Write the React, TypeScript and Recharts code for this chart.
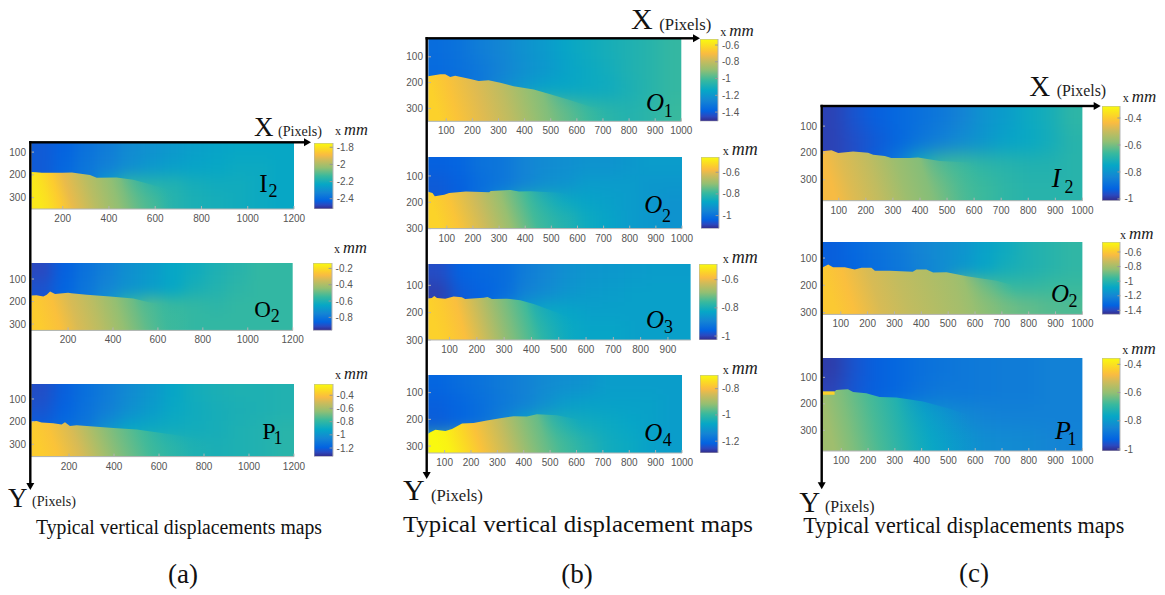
import React from 'react';
import { ComposedChart, BarChart, Area, Bar, Scatter, XAxis, YAxis } from 'recharts';

// ---------- colour-bar palette ----------
const parulaT = [0, 0.06, 0.125, 0.25, 0.375, 0.5, 0.625, 0.75, 0.82, 0.875, 1];
const parulaC = ['#352a87', '#2a49c0', '#0363e1', '#1485d4', '#06a7c6', '#38b99e', '#92bf73', '#d1bb59', '#f9bb42', '#fccd2e', '#f9fb0e'];

// ---------- shared tick lists ----------
const ticks1200 = [200, 400, 600, 800, 1000, 1200];
const ticks1000 = [100, 200, 300, 400, 500, 600, 700, 800, 900, 1000];
const ticks900 = [100, 200, 300, 400, 500, 600, 700, 800, 900];
const ticksY = [100, 200, 300];

// ---------- (a) I2 ----------
const a1Xd = [63, 1200]; const a1Yd = [60, 350]; const a1Range = [-2.52, -1.75];
const a1Cb = [-1.8, -2, -2.2, -2.4];
const a1Heat = [
  [-2.44, -2.42, -2.38, -2.35, -2.31, -2.29, -2.27, -2.25, -2.24, -2.23, -2.23, -2.23],
  [-2.44, -2.41, -2.37, -2.34, -2.30, -2.27, -2.25, -2.24, -2.23, -2.22, -2.22, -2.23],
  [-2.44, -2.41, -2.37, -2.26, -2.16, -2.17, -2.18, -2.20, -2.21, -2.21, -2.22, -2.23],
  [-2.25, -2.17, -2.12, -2.10, -2.09, -2.12, -2.17, -2.19, -2.20, -2.21, -2.22, -2.23],
];
const a1LowX = [63, 100, 150, 200, 300, 400, 500, 600, 700];
const a1LowV = [-1.79, -1.81, -1.85, -1.91, -1.98, -2.04, -2.10, -2.15, -2.19];
const a1Crack = [[63, 187], [85, 188], [110, 191], [150, 191], [200, 191], [240, 190], [270, 194], [318, 201], [347, 213], [433, 212], [505, 222], [577, 241], [650, 263], [722, 290], [822, 335], [880, 350]];

// ---------- (a) O2 ----------
const a2Xd = [35, 1200]; const a2Yd = [29, 328]; const a2Range = [-0.96, -0.134];
const a2Cb = [-0.2, -0.4, -0.6, -0.8];
const a2Heat = [
  [-0.91, -0.86, -0.81, -0.77, -0.72, -0.69, -0.65, -0.63, -0.60, -0.58, -0.56, -0.56],
  [-0.89, -0.85, -0.80, -0.75, -0.71, -0.68, -0.65, -0.61, -0.59, -0.57, -0.56, -0.56],
  [-0.89, -0.85, -0.80, -0.70, -0.56, -0.52, -0.55, -0.56, -0.57, -0.56, -0.56, -0.56],
  [-0.55, -0.51, -0.48, -0.48, -0.50, -0.52, -0.54, -0.56, -0.56, -0.56, -0.56, -0.56],
];
const a2LowX = [35, 120, 200, 300, 400, 500, 600, 700];
const a2LowV = [-0.24, -0.27, -0.33, -0.38, -0.44, -0.50, -0.55, -0.57];
const a2Crack = [[35, 173], [60, 172], [90, 178], [105, 170], [120, 156], [142, 167], [200, 161], [215, 163], [283, 170], [387, 178], [490, 187], [565, 204], [669, 222], [788, 267], [906, 328]];

// ---------- (a) P1 ----------
const a3Xd = [31, 1200]; const a3Yd = [34, 354]; const a3Range = [-1.33, -0.229];
const a3Cb = [-0.4, -0.6, -0.8, -1, -1.2];
const a3Heat = [
  [-1.25, -1.20, -1.14, -1.09, -1.03, -0.98, -0.92, -0.88, -0.86, -0.85, -0.85, -0.84],
  [-1.23, -1.19, -1.13, -1.08, -1.01, -0.96, -0.91, -0.89, -0.87, -0.86, -0.85, -0.84],
  [-1.20, -1.15, -1.11, -1.00, -0.92, -0.90, -0.89, -0.88, -0.87, -0.85, -0.84, -0.82],
  [-0.78, -0.73, -0.73, -0.74, -0.76, -0.78, -0.81, -0.85, -0.86, -0.85, -0.84, -0.82],
];
const a3LowX = [31, 100, 200, 300, 400, 500, 600, 700];
const a3LowV = [-0.37, -0.40, -0.49, -0.60, -0.69, -0.76, -0.81, -0.85];
const a3Crack = [[31, 199], [56, 197], [78, 204], [130, 207], [167, 212], [182, 203], [204, 219], [234, 216], [323, 222], [397, 228], [501, 235], [634, 253], [782, 275], [857, 279], [930, 275], [1000, 354]];

// ---------- (b) O1 ----------
const b1Xd = [30, 1000]; const b1Yd = [31, 350]; const b1Range = [-1.51, -0.528];
const b1Cb = [-0.6, -0.8, -1, -1.2, -1.4];
const b1Heat = [
  [-1.35, -1.33, -1.29, -1.26, -1.22, -1.19, -1.15, -1.12, -1.10, -1.08, -1.06, -1.03],
  [-1.36, -1.34, -1.31, -1.27, -1.23, -1.20, -1.16, -1.13, -1.11, -1.08, -1.06, -1.03],
  [-1.36, -1.34, -1.31, -1.24, -1.19, -1.15, -1.14, -1.13, -1.12, -1.09, -1.06, -1.03],
  [-1.02, -0.97, -0.97, -0.97, -0.94, -0.94, -0.97, -1.02, -1.05, -1.07, -1.05, -1.02],
];
const b1LowX = [30, 100, 200, 300, 400, 500, 600, 700, 760];
const b1LowV = [-0.64, -0.68, -0.75, -0.81, -0.89, -0.95, -1.0, -1.04, -1.05];
const b1Crack = [[30, 175], [77, 168], [96, 168], [115, 178], [134, 173], [192, 186], [224, 194], [262, 191], [307, 201], [358, 214], [435, 227], [498, 245], [575, 268], [652, 294], [779, 304], [850, 350]];

// ---------- (b) O2 ----------
const b2Xd = [28, 1000]; const b2Yd = [28, 300]; const b2Range = [-1.12, -0.459];
const b2Cb = [-0.6, -0.8, -1];
const b2Heat = [
  [-1.04, -1.03, -1.00, -0.99, -0.96, -0.94, -0.93, -0.92, -0.92, -0.91, -0.90, -0.90],
  [-1.05, -1.04, -1.01, -0.99, -0.96, -0.93, -0.92, -0.90, -0.90, -0.90, -0.91, -0.91],
  [-1.05, -1.04, -1.00, -0.92, -0.84, -0.84, -0.86, -0.88, -0.89, -0.90, -0.91, -0.92],
  [-0.79, -0.72, -0.72, -0.76, -0.77, -0.79, -0.82, -0.86, -0.88, -0.90, -0.91, -0.92],
];
const b2LowX = [28, 100, 200, 300, 400, 500, 600, 700];
const b2LowV = [-0.53, -0.56, -0.63, -0.70, -0.78, -0.83, -0.87, -0.89];
const b2Crack = [[28, 160], [45, 165], [54, 177], [90, 171], [109, 165], [173, 159], [262, 162], [268, 157], [344, 153], [376, 159], [421, 158], [497, 162], [599, 168], [778, 194], [870, 300]];

// ---------- (b) O3 ----------
const b3Xd = [21, 983]; const b3Yd = [22, 300]; const b3Range = [-1.028, -0.489];
const b3Cb = [-0.6, -0.8, -1];
const b3Heat = [
  [-0.99, -0.96, -0.95, -0.94, -0.91, -0.89, -0.87, -0.86, -0.855, -0.85, -0.845, -0.845],
  [-1.006, -0.97, -0.96, -0.94, -0.90, -0.88, -0.86, -0.85, -0.845, -0.84, -0.84, -0.84],
  [-1.0, -0.97, -0.95, -0.90, -0.84, -0.82, -0.83, -0.84, -0.84, -0.84, -0.84, -0.84],
  [-0.70, -0.68, -0.70, -0.73, -0.77, -0.80, -0.82, -0.83, -0.83, -0.84, -0.84, -0.84],
];
const b3LowX = [21, 60, 120, 200, 300, 400, 500, 600];
const b3LowV = [-0.55, -0.56, -0.58, -0.64, -0.71, -0.77, -0.81, -0.83];
const b3Crack = [[21, 148], [35, 146], [44, 139], [54, 146], [84, 149], [115, 141], [145, 144], [157, 150], [225, 145], [239, 143], [255, 150], [310, 149], [359, 155], [408, 168], [493, 199], [615, 254], [737, 300]];

// ---------- (b) O4 ----------
const b4Xd = [37, 1000]; const b4Yd = [34, 326]; const b4Range = [-1.29, -0.696];
const b4Cb = [-0.8, -1, -1.2];
const b4Heat = [
  [-1.21, -1.195, -1.18, -1.165, -1.15, -1.13, -1.12, -1.11, -1.09, -1.09, -1.09, -1.09],
  [-1.22, -1.21, -1.19, -1.17, -1.15, -1.12, -1.09, -1.08, -1.08, -1.08, -1.08, -1.09],
  [-1.225, -1.21, -1.19, -1.15, -1.08, -1.04, -1.04, -1.05, -1.06, -1.07, -1.08, -1.09],
  [-0.99, -0.93, -0.90, -0.93, -0.95, -0.96, -0.99, -1.02, -1.05, -1.06, -1.08, -1.09],
];
const b4LowX = [37, 80, 150, 200, 300, 400, 500, 600, 700, 800];
const b4LowV = [-0.70, -0.71, -0.755, -0.79, -0.86, -0.93, -0.98, -1.02, -1.05, -1.07];
const b4Crack = [[37, 254], [46, 248], [65, 239], [103, 244], [128, 236], [166, 216], [210, 214], [260, 204], [311, 196], [362, 188], [412, 189], [450, 181], [526, 185], [652, 210], [804, 326]];

// ---------- (c) I2 ----------
const c1Xd = [38, 1000]; const c1Yd = [25, 378]; const c1Range = [-1.013, -0.311];
const c1Cb = [-0.4, -0.6, -0.8, -1];
const c1Heat = [
  [-0.98, -0.95, -0.93, -0.91, -0.89, -0.87, -0.84, -0.80, -0.775, -0.74, -0.72, -0.68],
  [-0.98, -0.96, -0.94, -0.915, -0.88, -0.85, -0.82, -0.79, -0.76, -0.745, -0.725, -0.69],
  [-0.98, -0.96, -0.93, -0.86, -0.72, -0.66, -0.66, -0.68, -0.69, -0.70, -0.70, -0.69],
  [-0.59, -0.58, -0.59, -0.59, -0.61, -0.62, -0.65, -0.66, -0.68, -0.69, -0.69, -0.69],
];
const c1LowX = [38, 100, 200, 300, 400, 500, 600, 700, 800];
const c1LowV = [-0.44, -0.47, -0.51, -0.56, -0.59, -0.63, -0.66, -0.68, -0.70];
const c1Crack = [[38, 194], [73, 190], [98, 200], [153, 195], [208, 199], [227, 207], [270, 211], [294, 219], [362, 219], [393, 217], [473, 230], [596, 237], [781, 246], [904, 265], [1000, 320]];

// ---------- (c) O2 ----------
const c2Xd = [30, 1000]; const c2Yd = [41, 307]; const c2Range = [-1.455, -0.463];
const c2Cb = [-0.6, -0.8, -1, -1.2, -1.4];
const c2Heat = [
  [-1.34, -1.31, -1.28, -1.25, -1.21, -1.18, -1.15, -1.10, -1.06, -1.02, -1.00, -0.98],
  [-1.34, -1.32, -1.29, -1.26, -1.22, -1.18, -1.14, -1.09, -1.04, -1.02, -1.00, -0.98],
  [-1.34, -1.32, -1.29, -1.26, -1.22, -1.18, -0.88, -0.92, -0.96, -0.97, -0.96, -0.96],
  [-0.76, -0.76, -0.76, -0.76, -0.76, -0.78, -0.81, -0.84, -0.88, -0.90, -0.92, -0.93],
];
const c2LowX = [30, 100, 200, 300, 400, 500, 600, 700, 800];
const c2LowV = [-0.60, -0.63, -0.70, -0.74, -0.77, -0.80, -0.85, -0.88, -0.91];
const c2Crack = [[30, 136], [53, 124], [71, 134], [115, 134], [152, 142], [177, 136], [214, 136], [227, 147], [282, 147], [368, 150], [382, 142], [419, 142], [444, 153], [494, 152], [569, 167], [680, 183], [800, 215], [950, 270], [1000, 307]];

// ---------- (c) P1 ----------
const c3Xd = [28, 1000]; const c3Yd = [27, 378]; const c3Range = [-1.014, -0.355];
const c3Cb = [-0.4, -0.6, -0.8, -1];
const c3Heat = [
  [-0.99, -0.955, -0.935, -0.92, -0.90, -0.89, -0.88, -0.875, -0.87, -0.87, -0.86, -0.86],
  [-0.98, -0.95, -0.935, -0.92, -0.895, -0.88, -0.88, -0.875, -0.87, -0.87, -0.86, -0.86],
  [-0.98, -0.95, -0.90, -0.82, -0.81, -0.82, -0.84, -0.855, -0.86, -0.86, -0.86, -0.86],
  [-0.68, -0.70, -0.74, -0.75, -0.77, -0.79, -0.81, -0.83, -0.835, -0.84, -0.85, -0.855],
];
const c3LowX = [28, 100, 200, 300, 400, 500, 600, 700];
const c3LowV = [-0.585, -0.62, -0.67, -0.72, -0.76, -0.79, -0.82, -0.83];
const c3Crack = [[28, 153], [75, 153], [81, 148], [106, 146], [125, 145], [144, 155], [193, 160], [243, 174], [306, 176], [405, 191], [505, 219], [655, 269], [755, 320], [850, 378]];
const c3Patch = [[28, 153], [75, 153]];
const c3PatchFloor = 166;
const c3PatchValue = -0.43;

// ---------- layout (pixels on the page), kept apart from the data ----------
type P = any;
const panels: P[] = [
  { id: 'a1', L: 31, T: 143, R: 294, B: 209, cL: 314, cR: 332.7, xd: a1Xd, yd: a1Yd, xt: ticks1200, range: a1Range, cb: a1Cb, heat: a1Heat, lowX: a1LowX, lowV: a1LowV, crack: a1Crack, fade: 440, fadeLen: 220 },
  { id: 'a2', L: 31, T: 263.3, R: 292.7, B: 330.7, cL: 312.7, cR: 331.3, xd: a2Xd, yd: a2Yd, xt: ticks1200, range: a2Range, cb: a2Cb, heat: a2Heat, lowX: a2LowX, lowV: a2LowV, crack: a2Crack, fade: 480, fadeLen: 220 },
  { id: 'a3', L: 31, T: 383.7, R: 294, B: 456.3, cL: 313.7, cR: 332.3, xd: a3Xd, yd: a3Yd, xt: ticks1200, range: a3Range, cb: a3Cb, heat: a3Heat, lowX: a3LowX, lowV: a3LowV, crack: a3Crack, fade: 520, fadeLen: 260 },
  { id: 'b1', L: 427.7, T: 39, R: 681, B: 121.3, cL: 700, cR: 718, xd: b1Xd, yd: b1Yd, xt: ticks1000, range: b1Range, cb: b1Cb, heat: b1Heat, lowX: b1LowX, lowV: b1LowV, crack: b1Crack, fade: 450, fadeLen: 220 },
  { id: 'b2', L: 427.7, T: 156.7, R: 681.7, B: 228.3, cL: 700.7, cR: 718.3, xd: b2Xd, yd: b2Yd, xt: ticks1000, range: b2Range, cb: b2Cb, heat: b2Heat, lowX: b2LowX, lowV: b2LowV, crack: b2Crack, fade: 400, fadeLen: 160 },
  { id: 'b3', L: 427.7, T: 263.7, R: 690.3, B: 339.7, cL: 699.3, cR: 717.7, xd: b3Xd, yd: b3Yd, xt: ticks900, range: b3Range, cb: b3Cb, heat: b3Heat, lowX: b3LowX, lowV: b3LowV, crack: b3Crack, fade: 370, fadeLen: 160 },
  { id: 'b4', L: 427.7, T: 374.7, R: 681.7, B: 452.7, cL: 700.3, cR: 718.3, xd: b4Xd, yd: b4Yd, xt: ticks1000, range: b4Range, cb: b4Cb, heat: b4Heat, lowX: b4LowX, lowV: b4LowV, crack: b4Crack, fade: 450, fadeLen: 160 },
  { id: 'c1', L: 822.3, T: 106, R: 1082.7, B: 200.7, cL: 1102.3, cR: 1120.7, xd: c1Xd, yd: c1Yd, xt: ticks1000, range: c1Range, cb: c1Cb, heat: c1Heat, lowX: c1LowX, lowV: c1LowV, crack: c1Crack, fade: 390, fadeLen: 200 },
  { id: 'c2', L: 822.3, T: 242.3, R: 1082.7, B: 314.7, cL: 1102.3, cR: 1120.7, xd: c2Xd, yd: c2Yd, xt: ticks1000, range: c2Range, cb: c2Cb, heat: c2Heat, lowX: c2LowX, lowV: c2LowV, crack: c2Crack, fade: 540, fadeLen: 180 },
  { id: 'c3', L: 822.3, T: 357.7, R: 1082.7, B: 450.7, cL: 1102, cR: 1120.3, xd: c3Xd, yd: c3Yd, xt: ticks1000, range: c3Range, cb: c3Cb, heat: c3Heat, lowX: c3LowX, lowV: c3LowV, crack: c3Crack, fade: 300, fadeLen: 260, patch: c3Patch, patchFloor: c3PatchFloor, patchV: c3PatchValue },
];

const hex = (s: string) => [1, 3, 5].map((i) => parseInt(s.slice(i, i + 2), 16));
function parula(t0: number) {
  const t = Math.max(0, Math.min(1, t0));
  let i = 0;
  while (i < parulaT.length - 2 && t > parulaT[i + 1]) i++;
  const f = (t - parulaT[i]) / (parulaT[i + 1] - parulaT[i]);
  const a = hex(parulaC[i]); const b = hex(parulaC[i + 1]);
  return `rgb(${a.map((v, k) => Math.round(v + (b[k] - v) * f)).join(',')})`;
}

const AXIS = '#b4b4b4';
const tickStyle = { fontSize: 10, fill: '#555', fontFamily: '"Liberation Sans", Arial, sans-serif' };

function HeatPanel({ p }: { p: P }) {
  const [lo, hi] = p.range;
  const color = (v: number) => parula((v - lo) / (hi - lo));
  const pw = p.R - p.L; const ph = p.B - p.T;
  const nr = p.heat.length; const nc = p.heat[0].length;
  const cw = pw / nc; const ch = ph / nr;
  const cells: any[] = [];
  p.heat.forEach((row: number[], r: number) => row.forEach((v, c) => {
    cells.push({
      x: p.xd[0] + ((c + 0.5) / nc) * (p.xd[1] - p.xd[0]),
      y: p.yd[0] + ((r + 0.5) / nr) * (p.yd[1] - p.yd[0]),
      v, r, c,
    });
  }));
  const crack = p.crack.map(([x, y]: number[]) => ({ x, y }));
  const x0 = p.crack[0][0]; const x1 = p.crack[p.crack.length - 1][0];
  const fadeEnd = Math.min(x1, p.fade + p.fadeLen);
  const stopOp = (x: number) => (x <= p.fade ? 1 : Math.max(0, (fadeEnd - x) / (fadeEnd - p.fade)));
  const valueAt = (x: number) => {
    const xs = p.lowX; const vs = p.lowV;
    if (x >= xs[xs.length - 1]) return vs[vs.length - 1];
    let i = 0;
    while (x > xs[i + 1]) i++;
    return vs[i] + ((vs[i + 1] - vs[i]) * (x - xs[i])) / (xs[i + 1] - xs[i]);
  };
  const stopXs = Array.from(new Set<number>([...p.lowX.filter((x: number) => x < fadeEnd), p.fade, fadeEnd])).sort((a, b) => a - b);
  const ML = 30; const MT = 6;
  const shape = (s: any) => {
    const d = s.payload;
    const xx = s.cx - cw / 2 - (d.c === 0 ? 24 : 0);
    const yy = s.cy - ch / 2 - (d.r === 0 ? 24 : 0);
    const w = cw + 1 + (d.c === 0 || d.c === nc - 1 ? 24 : 0);
    const h = ch + 1 + (d.r === 0 || d.r === nr - 1 ? 24 : 0);
    return <rect x={xx} y={yy} width={w} height={h} fill={color(d.v)} />;
  };
  const patch = p.patch ? p.patch.map(([x, y]: number[]) => ({ x, y })) : null;
  return (
    <div style={{ position: 'absolute', left: p.L - ML, top: p.T - MT }}>
      <style>{`.hm-${p.id}{filter:url(#blur-${p.id});clip-path:url(#clip-${p.id});}`}</style>
      <ComposedChart width={pw + ML + 16} height={ph + MT + 24} margin={{ top: MT, left: 0, right: 16, bottom: 0 }}>
        <defs>
          <filter id={`blur-${p.id}`} colorInterpolationFilters="sRGB" x="-10%" y="-10%" width="120%" height="120%">
            <feGaussianBlur stdDeviation={Math.min(cw, ch) * 0.42} />
          </filter>
          <clipPath id={`clip-${p.id}`}>
            <rect x={ML} y={MT} width={pw} height={ph} />
          </clipPath>
          <linearGradient id={`low-${p.id}`} x1="0" y1="0.06" x2="1" y2="0">
            {stopXs.map((x: number, i: number) => (
              <stop key={i} offset={(x - x0) / (x1 - x0)} stopColor={color(valueAt(x))} stopOpacity={stopOp(x)} />
            ))}
          </linearGradient>
        </defs>
        <XAxis type="number" dataKey="x" domain={p.xd} allowDataOverflow ticks={p.xt} interval={0} height={24}
          tick={tickStyle} tickSize={-3} tickMargin={9} stroke={AXIS} />
        <XAxis xAxisId="top" orientation="top" type="number" dataKey="x" domain={p.xd} allowDataOverflow ticks={p.xt} interval={0} height={0}
          tick={false} tickSize={-3} stroke={AXIS} />
        <YAxis type="number" reversed domain={p.yd} allowDataOverflow ticks={ticksY} interval={0} width={ML}
          tick={tickStyle} tickSize={-3} tickMargin={8} stroke={AXIS} />
        <YAxis yAxisId="right" orientation="right" type="number" reversed domain={p.yd} allowDataOverflow ticks={ticksY} interval={0} width={0}
          tick={false} tickSize={-3} stroke={AXIS} />
        <Scatter className={`hm-${p.id}`} data={cells} dataKey="y" shape={shape} isAnimationActive={false} legendType="none" {...({ zIndex: 50 } as any)} />
        <Area data={crack} dataKey="y" type="linear" baseValue={p.yd[1]} fill={`url(#low-${p.id})`} fillOpacity={1} stroke="none" dot={false} activeDot={false} isAnimationActive={false} legendType="none" {...({ zIndex: 100 } as any)} />
        {patch && (
          <Area data={patch} dataKey="y" type="linear" baseValue={p.patchFloor} fill={color(p.patchV)} fillOpacity={1} stroke="none" dot={false} activeDot={false} isAnimationActive={false} legendType="none" {...({ zIndex: 110 } as any)} />
        )}
      </ComposedChart>
    </div>
  );
}

function ColorBar({ p }: { p: P }) {
  const [lo, hi] = p.range;
  const w = p.cR - p.cL; const h = p.B - p.T;
  const data = [{ n: 'c', span: [lo, hi] }];
  return (
    <div style={{ position: 'absolute', left: p.cL, top: p.T - 6 }}>
      <BarChart width={w + 36} height={h + 12} data={data} margin={{ top: 6, bottom: 6, left: 0, right: 0 }} barCategoryGap={0}>
        <defs>
          <linearGradient id={`cb-${p.id}`} x1="0" y1="1" x2="0" y2="0">
            {parulaT.map((t, i) => <stop key={i} offset={t} stopColor={parulaC[i]} />)}
          </linearGradient>
        </defs>
        <XAxis type="category" dataKey="n" hide />
        <YAxis orientation="right" type="number" domain={[lo, hi]} allowDataOverflow ticks={p.cb} interval={0} width={36}
          tick={tickStyle} tickSize={-3} tickMargin={7} axisLine={false} tickLine={{ stroke: '#999' }} tickFormatter={(v: number) => String(v)} />
        <Bar dataKey="span" fill={`url(#cb-${p.id})`} stroke={AXIS} isAnimationActive={false} legendType="none" />
      </BarChart>
    </div>
  );
}

// ---------- page annotations ----------
const unitLabels = [[335, 135, 16.5], [334, 252.7, 16.5], [335, 379, 16.5], [720.3, 36, 17], [722.7, 155, 18], [722.7, 262.7, 18], [722.7, 374, 18], [1122.7, 102, 17], [1120, 239, 17], [1122.3, 354, 17]];
const tagLabels: [string, string, number, number, number, number, boolean, number][] = [
  ['I', '2', 259.3, 191.7, 268.5, 196.7, false, 25],
  ['O', '2', 254.3, 317.3, 270.7, 321.7, false, 23],
  ['P', '1', 262.3, 439, 273.5, 444, false, 24],
  ['O', '1', 646, 111, 663.8, 116.7, true, 25],
  ['O', '2', 644.3, 213.3, 662, 221.7, true, 25],
  ['O', '3', 646, 327.7, 664, 333.3, true, 25],
  ['O', '4', 644.3, 440.7, 662.7, 446, true, 25],
  ['I', '2', 1051.7, 187.3, 1064.5, 192.7, true, 27],
  ['O', '2', 1051, 301.7, 1068.5, 307.3, true, 25],
  ['P', '1', 1055, 439.3, 1067.5, 445, true, 26],
];
const axisTitles: [string, number, number, number, number, number, number][] = [
  ['X', 254, 136, 27, 278, 136, 14.1],
  ['Y', 8, 506.5, 27, 32, 506, 14.1],
  ['X', 631, 29, 30, 659.3, 30, 16.7],
  ['Y', 403, 500, 30, 431, 501, 16.7],
  ['X', 1029.3, 96, 29, 1056.7, 95.7, 15.9],
  ['Y', 799.3, 511.7, 29, 825, 511.7, 15.9],
];
const arrows = [
  [30.3, 142.3, 311, 490],
  [426.7, 38.3, 700, 479],
  [821.7, 106, 1100.7, 489.3],
];
const captions: [string, number, number, number, number][] = [
  ['Typical vertical displacements maps', 36, 534.3, 286, 20],
  ['Typical vertical displacement maps', 403, 532, 350, 24],
  ['Typical vertical displacements maps', 803.3, 533, 321, 22.5],
];
const subcaptions: [string, number, number][] = [['(a)', 183, 583], ['(b)', 577, 583], ['(c)', 974, 582]];

const SERIF = '"Liberation Serif", "Times New Roman", serif';

function Overlay() {
  return (
    <svg width={1165} height={595} style={{ position: 'absolute', left: 0, top: 0, pointerEvents: 'none' }} fontFamily={SERIF}>
      {arrows.map(([x, y, xe, ye], i) => (
        <g key={i} fill="#000" stroke="none">
          <rect x={x - 1.2} y={y - 1.2} width={xe - x - 4} height={2.4} />
          <rect x={x - 1.2} y={y - 1.2} width={2.4} height={ye - y - 4} />
          <polygon points={`${xe},${y} ${xe - 7},${y - 4} ${xe - 7},${y + 4}`} />
          <polygon points={`${x},${ye} ${x - 4},${ye - 7} ${x + 4},${ye - 7}`} />
        </g>
      ))}
      {axisTitles.map(([t, x, y, s, px, py, ps], i) => (
        <g key={i} fill="#111">
          <text x={x} y={y} fontSize={s}>{t}</text>
          <text x={px} y={py} fontSize={ps} fill="#222">(Pixels)</text>
        </g>
      ))}
      {unitLabels.map(([x, y, s], i) => (
        <text key={i} x={x} y={y} fontSize={12} fill="#222">
          x <tspan fontStyle="italic" fontSize={s}>mm</tspan>
        </text>
      ))}
      {tagLabels.map(([t, s, x, y, sx, sy, it, fs], i) => (
        <text key={i} fill="#000" fontStyle={it ? 'italic' : 'normal'} fontSize={fs}>
          <tspan x={x} y={y}>{t}</tspan>
          <tspan x={sx} y={sy} fontSize={18} fontStyle="normal">{s}</tspan>
        </text>
      ))}
      {captions.map(([t, x, y, w, s], i) => (
        <text key={i} x={x} y={y} fontSize={s} textLength={w} lengthAdjust="spacingAndGlyphs" fill="#111">{t}</text>
      ))}
      {subcaptions.map(([t, x, y], i) => (
        <text key={i} x={x} y={y} fontSize={27} textAnchor="middle" fill="#111">{t}</text>
      ))}
    </svg>
  );
}

export default function App() {
  return (
    <div style={{ position: 'absolute', left: 0, top: 0, width: 1165, height: 595, background: '#fff', overflow: 'hidden' }}>
      {panels.map((p) => <HeatPanel key={p.id} p={p} />)}
      {panels.map((p) => <ColorBar key={p.id} p={p} />)}
      <Overlay />
    </div>
  );
}
